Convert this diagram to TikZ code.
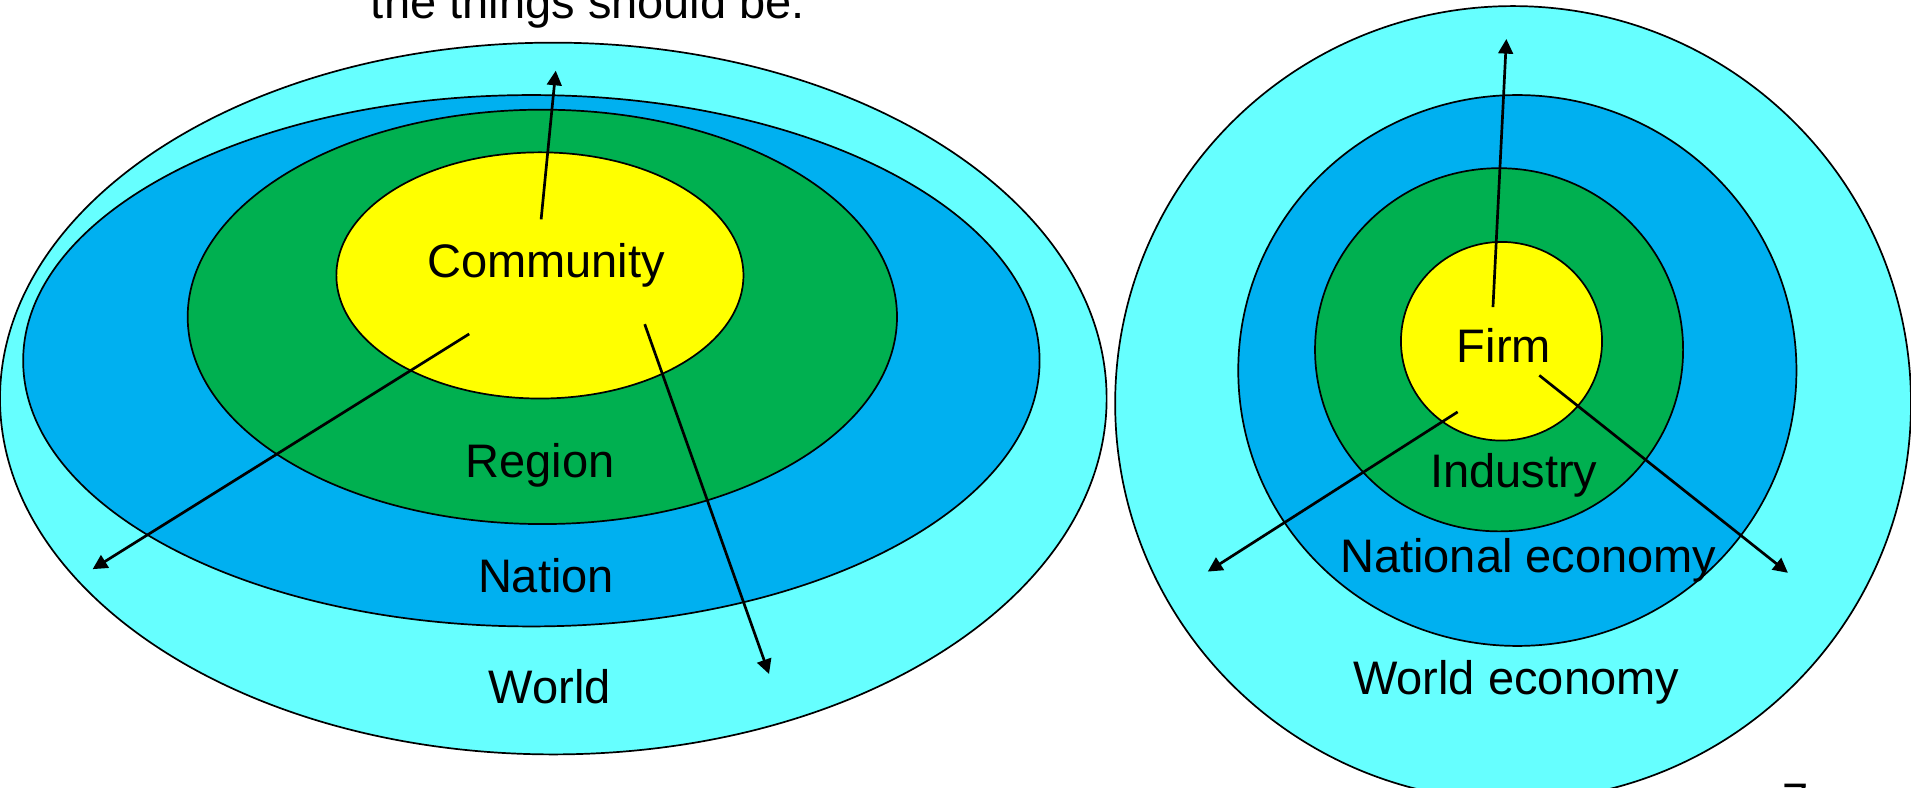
\documentclass[tikz,border=0pt]{standalone}
\usepackage{fontspec}
\setmainfont{Liberation Sans}
\usetikzlibrary{arrows.meta}

\definecolor{ringcyan}{HTML}{66FFFF}
\definecolor{ringblue}{HTML}{00B0F0}
\definecolor{ringgreen}{HTML}{00B050}
\definecolor{ringyellow}{HTML}{FFFF00}

\begin{document}
\begin{tikzpicture}[x=0.5pt, y=-0.5pt,
  ring/.style={draw=black, line width=0.7pt},
  lbl/.style={font=\fontsize{19.3}{23}\selectfont, inner sep=0pt, anchor=base},
  arr/.style={line width=1.1pt, -{Triangle[length=6pt,width=6pt]}}]

\useasboundingbox (0,0) rectangle (1568,646);

\node [lbl, anchor=base west] (head) at (304,15) {the things should be.};

% left: community rings
\draw [ring, fill=ringcyan]   (454,327) ellipse [x radius=454, y radius=292];
\draw [ring, fill=ringblue]   (436,296) ellipse [x radius=417, y radius=218];
\draw [ring, fill=ringgreen]  (445,260) ellipse [x radius=291, y radius=170];
\draw [ring, fill=ringyellow] (443,226) ellipse [x radius=167, y radius=101];

\node [lbl] (community) at (448,228) {Community};
\node [lbl] (region)    at (443,392) {Region};
\node [lbl] (nation)    at (448,486) {Nation};
\node [lbl] (world)     at (451,577) {World};

% right: economy rings
\draw [ring, fill=ringcyan]   (1241.5,331) ellipse [x radius=326.5, y radius=326];
\draw [ring, fill=ringblue]   (1245,304) ellipse [x radius=229, y radius=226];
\draw [ring, fill=ringgreen]  (1230,287) ellipse [x radius=151, y radius=149];
\draw [ring, fill=ringyellow] (1232,280) ellipse [x radius=82.5, y radius=81.5];

\node [lbl] (firm)     at (1234,297.6) {Firm};
\node [lbl] (industry) at (1242,400) {Industry};
\node [lbl] (nateco)   at (1254,470) {National economy};
\node [lbl] (worldeco) at (1244,570) {World economy};

\node [lbl] (pagenum) at (1473,670) {7};

% -------- arrows -----------
\coordinate (cupA) at (444,180);  \coordinate (cupB) at (456,58);
\coordinate (clfA) at (385,274);  \coordinate (clfB) at (76,467);
\coordinate (crtA) at (529,266);  \coordinate (crtB) at (631,553);
\coordinate (fupA) at (1225,252); \coordinate (fupB) at (1236,32);
\coordinate (flfA) at (1196,338); \coordinate (flfB) at (991,469);
\coordinate (frtA) at (1263,308); \coordinate (frtB) at (1467,470);

\draw [arr] (cupA) -- (cupB);
\draw [arr] (clfA) -- (clfB);
\draw [arr] (crtA) -- (crtB);
\draw [arr] (fupA) -- (fupB);
\draw [arr] (flfA) -- (flfB);
\draw [arr] (frtA) -- (frtB);

\end{tikzpicture}
\end{document}
